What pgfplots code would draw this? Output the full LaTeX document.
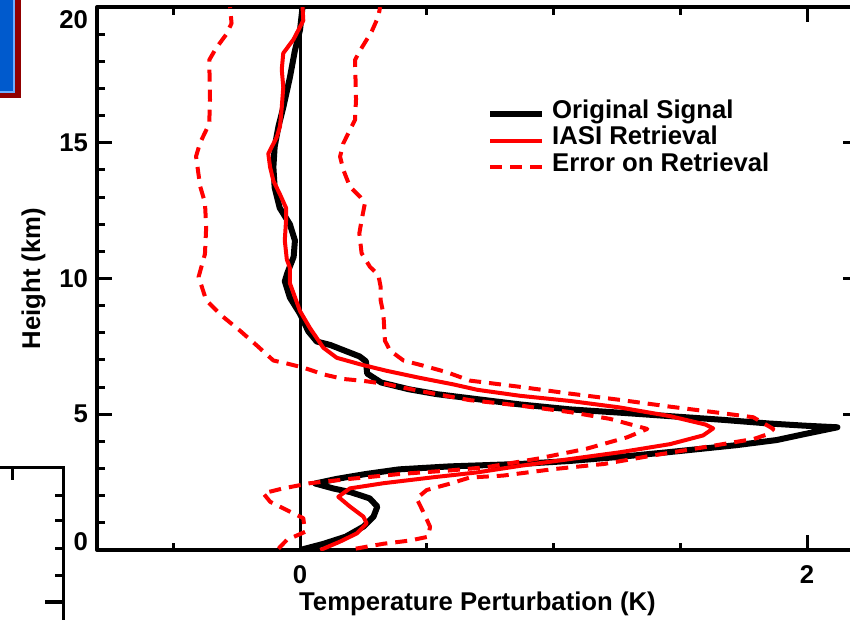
\documentclass[border=0pt]{standalone}
\usepackage{pgfplots}
\pgfplotsset{compat=1.18}
\usepackage{fontspec}
\setmainfont{Liberation Sans}
\definecolor{boxblue}{RGB}{0,90,205}
\definecolor{boxlight}{RGB}{110,175,255}
\definecolor{boxred}{RGB}{145,0,0}
\newcommand{\idlfont}{\fontsize{25.7}{28}\selectfont\bfseries}
\begin{document}
\begin{tikzpicture}
\begin{axis}[
  at={(97.2pt,-550pt)}, anchor=south west,
  x=253.5pt, y=27.15pt,
  xmin=-0.8, xmax=2.2, ymin=0, ymax=20,
  axis line style={line width=4pt},
  xtick={0,2}, minor xtick={-0.5,0.5,1,1.5},
  ytick={0,5,10,15,20}, minor ytick={1,2,3,4,6,7,8,9,11,12,13,14,16,17,18,19},
  tick style={line width=3pt, black},
  major tick length=15pt, minor tick length=7.5pt,
  xticklabels={0,2},
  yticklabels={{\smash{0}},5,10,15,{\smash{\raisebox{-21pt}{20}}}},
  /pgf/number format/assume math mode=true,
  tick label style={font=\idlfont},
  yticklabel style={inner sep=0pt, xshift=-9pt},
  xticklabel style={inner sep=0pt, yshift=-15pt},
  xlabel={Temperature Perturbation (K)},
  ylabel={Height (km)},
  every axis x label/.style={at={(axis description cs:0.5,-0.1123)}, anchor=base, font=\idlfont},
  every axis y label/.style={at={(axis description cs:-0.0752,0.5)}, rotate=90, anchor=base, font=\idlfont},
  legend style={at={(axis cs:0.7377,16.616)}, anchor=north west, draw=none, fill=none,
    inner sep=0pt, font=\idlfont, row sep=1.6pt,
    nodes={inner sep=0pt, text height=19pt, text depth=6pt}},
  legend cell align=left,
  legend image code/.code={\draw[#1] (0pt,-2.5pt) -- (52pt,-2.5pt);},
  /tikz/every odd column/.append style={column sep=7pt},
  line join=round,
]
\addplot[black, line width=3pt, forget plot] coordinates {(0,0) (0,20)};
\addplot[black, line width=6pt] coordinates {
(0.00,0.00) (0.09,0.22) (0.18,0.49) (0.25,0.86) (0.29,1.23) (0.305,1.6) (0.275,1.9)
(0.20,2.13) (0.13,2.27) (0.06,2.45) (0.145,2.62) (0.26,2.80) (0.39,2.97) (0.59,3.08)
(0.87,3.17) (1.065,3.28) (1.26,3.43) (1.46,3.61) (1.72,3.86) (1.88,4.05) (1.99,4.27)
(2.12,4.52) (1.99,4.58) (1.85,4.66) (1.66,4.80) (1.46,4.93) (1.26,5.06) (1.065,5.18)
(0.87,5.36) (0.67,5.59) (0.54,5.74) (0.43,5.92) (0.32,6.17) (0.265,6.5) (0.26,6.95)
(0.235,7.13) (0.18,7.33) (0.12,7.55) (0.066,7.68) (0.033,8.05) (0.0,8.7) (-0.04,9.3)
(-0.06,9.9) (-0.05,10.2) (-0.025,10.8) (-0.02,11.4) (-0.04,12.0) (-0.08,12.6)
(-0.10,13.35) (-0.105,14.1) (-0.10,14.85) (-0.085,15.6) (-0.066,16.3) (-0.04,17.4)
(-0.02,18.4) (0.0,19.15) (0.01,20.0)};
\addlegendentry{Original Signal}
\addplot[red, line width=4pt] coordinates {
(0.08,0.0) (0.158,0.31) (0.224,0.61) (0.263,0.98) (0.25,1.23) (0.197,1.6) (0.151,1.96)
(0.197,2.27) (0.329,2.46) (0.526,2.68) (0.70,2.86) (0.868,3.1) (1.065,3.35) (1.262,3.6)
(1.46,3.9) (1.59,4.22) (1.63,4.48) (1.6,4.62) (1.46,4.93) (1.262,5.25) (1.065,5.49)
(0.868,5.68) (0.70,5.9) (0.605,6.1) (0.473,6.34) (0.342,6.6) (0.237,6.84) (0.145,7.08)
(0.092,7.45) (0.039,8.18) (0.0,8.8) (-0.04,9.83) (-0.04,10.4) (-0.052,10.7) (-0.06,11.4)
(-0.055,12.15) (-0.055,12.6) (-0.079,13.1) (-0.105,13.6) (-0.118,14.1) (-0.125,14.6)
(-0.092,15.2) (-0.079,15.6) (-0.072,16.3) (-0.066,17.05) (-0.072,17.7) (-0.066,18.3)
(-0.026,18.8) (0.013,19.5) (0.01,20)};
\addlegendentry{IASI Retrieval}
\addplot[red, line width=4pt, dash pattern=on 12pt off 8pt] coordinates {
(-0.085,0.05) (-0.052,0.37) (0.02,0.67) (0.013,1.17) (-0.052,1.47) (-0.118,1.78)
(-0.145,2.09) (-0.066,2.27) (0.039,2.46) (0.197,2.62) (0.394,2.8) (0.59,2.93) (0.736,3.05)
(0.934,3.36) (1.13,3.73) (1.29,4.15) (1.37,4.46) (1.223,4.83) (1.065,5.08) (0.868,5.32)
(0.67,5.52) (0.539,5.74) (0.434,5.93) (0.342,6.11) (0.25,6.23) (0.171,6.3) (0.092,6.47)
(0.013,6.72) (-0.052,6.87) (-0.105,6.98) (-0.17,7.53) (-0.237,8.08) (-0.31,8.64)
(-0.37,9.2) (-0.4,10.06) (-0.375,10.9) (-0.37,11.9) (-0.375,12.8) (-0.394,13.4)
(-0.41,14.5) (-0.394,15.0) (-0.358,15.7) (-0.355,16.6) (-0.358,18.05) (-0.33,18.5)
(-0.29,19.0) (-0.27,19.4) (-0.276,20)};
\addlegendentry{Error on Retrieval}
\addplot[red, line width=4pt, dash pattern=on 12pt off 8pt, forget plot] coordinates {
(0.22,0.05) (0.329,0.23) (0.434,0.35) (0.506,0.49) (0.513,0.86) (0.486,1.41) (0.46,1.9)
(0.5,2.21) (0.59,2.44) (0.67,2.67) (0.80,2.74) (1.0,2.98) (1.2,3.17) (1.39,3.48)
(1.59,3.78) (1.79,4.09) (1.85,4.28) (1.867,4.46) (1.788,4.89) (1.657,5.05) (1.46,5.28)
(1.262,5.53) (1.065,5.76) (0.868,6.01) (0.67,6.24) (0.579,6.55) (0.486,6.79) (0.408,6.98)
(0.355,7.35) (0.335,7.71) (0.329,8.7) (0.318,9.2) (0.318,9.7) (0.309,10.13) (0.276,10.43)
(0.243,10.93) (0.234,11.66) (0.243,12.15) (0.256,12.77) (0.237,13.01) (0.197,13.38)
(0.171,14.0) (0.158,14.49) (0.171,14.98) (0.197,15.47) (0.217,15.84) (0.221,16.6)
(0.217,18.05) (0.237,18.4) (0.283,19.1) (0.309,19.65) (0.316,20)};
\end{axis}
% neighbouring panel fragments (cropped poster)
\fill[boxred] (0pt,0pt) rectangle (20.5pt,-98pt);
\fill[boxlight] (0pt,0pt) rectangle (15pt,-93pt);
\fill[boxblue] (0pt,0pt) rectangle (13pt,-90.5pt);
\draw[line width=3pt] (0pt,-467pt) -- (63pt,-467pt) -- (63pt,-630pt);
\draw[line width=3pt] (12pt,-467pt) -- (12pt,-480pt);
\foreach \yy in {495,520,548,575} {\draw[line width=3pt] (55pt,-\yy pt) -- (63pt,-\yy pt);}
\draw[line width=3.5pt] (45pt,-602pt) -- (63pt,-602pt);
\pgfresetboundingbox
\useasboundingbox (0pt,0pt) rectangle (850pt,-619pt);
\end{tikzpicture}
\end{document}
